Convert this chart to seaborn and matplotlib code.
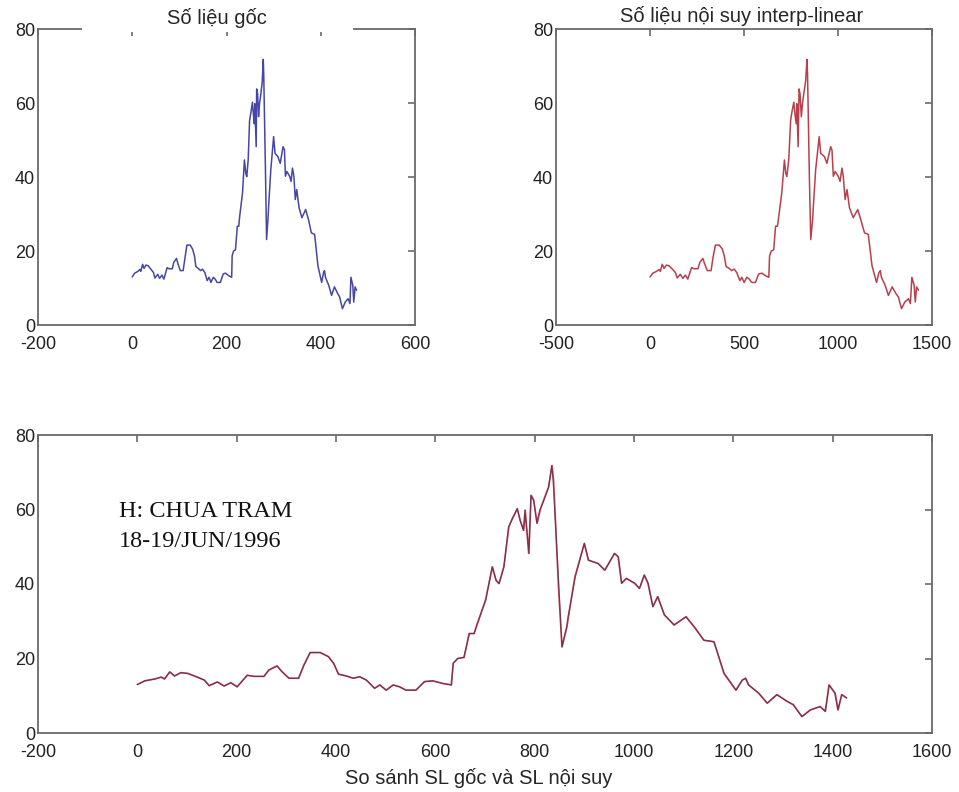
import matplotlib
matplotlib.use("Agg")
import matplotlib.pyplot as plt
from matplotlib.patches import Rectangle
import numpy as np
import pandas as pd
import seaborn as sns

# ! -------------
# ! Water level readings (H, cm)
# ? original sample index (Số liệu gốc)
orig_t = [
    0, 5, 12, 16, 18, 22, 25, 29, 34, 40,
    45, 48, 54, 58, 63, 67, 74, 78, 85, 88,
    94, 97, 102, 108, 112, 116, 123, 128, 132, 135,
    140, 145, 149, 154, 159, 163, 167, 172, 176, 180,
    187, 193, 198, 205, 211, 212, 215, 219, 223, 226,
    228, 234, 238, 241, 243, 246, 249, 252, 255, 257,
    259, 260, 263, 264, 266, 268, 270, 273, 276, 278,
    279, 281, 283, 285, 288, 289, 294, 300, 303, 309,
    314, 320, 323, 325, 328, 334, 337, 340, 343, 346,
    349, 354, 360, 368, 374, 380, 387, 394, 402, 406,
    408, 410, 417, 423, 429, 436, 440, 446, 452, 458,
    462, 464, 468, 470, 473, 476,
]
# ? interpolated time index (Số liệu nội suy interp-linear)
interp_t = [
    0, 15, 35, 48, 55, 65, 75, 88, 101, 121,
    135, 145, 161, 175, 188, 201, 221, 235, 255, 265,
    281, 291, 305, 325, 335, 348, 368, 385, 395, 405,
    421, 435, 448, 461, 478, 488, 501, 515, 528, 541,
    561, 578, 595, 615, 632, 636, 645, 658, 668, 678,
    685, 701, 715, 722, 728, 738, 748, 755, 765, 771,
    778, 781, 788, 793, 798, 805, 811, 818, 828, 835,
    838, 843, 848, 855, 865, 868, 881, 900, 908, 928,
    941, 961, 968, 975, 985, 1001, 1011, 1021, 1028, 1038,
    1048, 1061, 1081, 1105, 1121, 1141, 1161, 1181, 1205, 1218,
    1225, 1231, 1251, 1268, 1288, 1308, 1321, 1338, 1355, 1375,
    1385, 1393, 1405, 1411, 1418, 1428,
]
level_h = [
    13, 14, 14.5, 15, 14.5, 16.4, 15.3, 16.2, 16, 15,
    14.2, 12.7, 13.7, 12.6, 13.5, 12.4, 15.5, 15.2, 15.2, 16.9,
    18, 16.5, 14.7, 14.7, 18.2, 21.6, 21.6, 20.5, 18.7, 15.8,
    15.3, 14.7, 15.1, 14.2, 12, 12.9, 11.5, 12.9, 12.4, 11.5,
    11.5, 13.8, 14, 13.3, 12.9, 18.7, 20, 20.3, 26.7, 26.7,
    29.4, 35.7, 44.6, 41, 40.1, 44.6, 55.3, 57.6, 60.2, 57,
    54.4, 59.8, 48.2, 63.8, 62.5, 56.3, 59.8, 62.5, 66, 71.8,
    67.8, 53.6, 39.2, 23.1, 28.5, 31.2, 41.9, 50.9, 46.4, 45.5,
    43.7, 48.2, 47.3, 40.2, 41.5, 40.2, 38.8, 42.4, 40.2, 33.9,
    36.6, 31.7, 29, 31.2, 28.5, 24.9, 24.5, 16, 11.5, 14.2,
    14.7, 12.9, 10.7, 8, 10.3, 8.5, 7.6, 4.4, 6.2, 7.1,
    5.8, 12.9, 10.7, 6.2, 10.3, 9.4,
]

title_orig = "Số liệu gốc"
title_interp = "Số liệu nội suy interp-linear"
title_compare = "So sánh SL gốc và SL nội suy"
station_note = "H: CHUA TRAM\n18-19/JUN/1996"

df_orig = pd.DataFrame({"t": orig_t, "h": level_h})
df_interp = pd.DataFrame({"t": interp_t, "h": level_h})

sns.set_style("white")
plt.rcParams["font.family"] = ["Liberation Sans", "DejaVu Sans"]
plt.rcParams["axes.unicode_minus"] = False

W, H = 959, 792
fig = plt.figure(figsize=(W / 100, H / 100), dpi=100)


def px_axes(left, top, right, bottom):
    return fig.add_axes([left / W, 1 - bottom / H, (right - left) / W, (bottom - top) / H])


ax_tl = px_axes(38, 29, 415, 325)
ax_tr = px_axes(556, 29, 932, 325)
ax_bt = px_axes(38, 435, 932, 733)

blue = "#4646a6"
red = "#b8404c"

sns.lineplot(data=df_orig, x="t", y="h", ax=ax_tl, color=blue, lw=1.1,
             estimator=None, sort=False)
sns.lineplot(data=df_interp, x="t", y="h", ax=ax_tr, color=red, lw=1.1,
             estimator=None, sort=False)
sns.lineplot(data=df_interp, x="t", y="h", ax=ax_bt, color=red, lw=1.2,
             estimator=None, sort=False)
# original series on the interpolated time axis (3 steps per sample)
sns.lineplot(x=np.array(orig_t) * 3, y=level_h, ax=ax_bt, color="#3a2050",
             lw=0.8, alpha=0.5, estimator=None, sort=False)


def style(ax, xlim, xticks):
    ax.set_xlim(*xlim)
    ax.set_ylim(0, 80)
    ax.set_xticks(xticks)
    ax.set_yticks([0, 20, 40, 60, 80])
    ax.set_xlabel("")
    ax.set_ylabel("")
    for s in ax.spines.values():
        s.set_visible(True)
        s.set_color("#6a6a6a")
        s.set_linewidth(1.3)
    ax.tick_params(direction="in", top=True, right=True, length=5, width=1.2,
                   color="#6a6a6a", labelsize=13, labelcolor="#222222", pad=2)
    ax.tick_params(axis="x", pad=8)


style(ax_tl, (-200, 600), [-200, 0, 200, 400, 600])
style(ax_tr, (-500, 1500), [-500, 0, 500, 1000, 1500])
style(ax_bt, (-200, 1600), [-200, 0, 200, 400, 600, 800, 1000, 1200, 1400, 1600])

# white box behind the first title, hiding part of the top spine
fig.add_artist(Rectangle((82 / W, 1 - 32 / H), 271 / W, 9 / H,
                         transform=fig.transFigure, facecolor="white",
                         edgecolor="none", zorder=10))

fig.text(217 / W, 1 - 18 / H, title_orig, ha="center", va="center",
         fontsize=14.5, zorder=11)
fig.text(742 / W, 1 - 16 / H, title_interp, ha="center", va="center", fontsize=14.5)
fig.text(479 / W, 1 - 778 / H, title_compare, ha="center", va="center", fontsize=14.5)
fig.text(119 / W, 1 - 501 / H, station_note, ha="left", va="top", fontsize=17.5,
         family=["Liberation Serif", "DejaVu Serif"], linespacing=1.55, color="#111111")

fig.savefig("out.png", dpi=100)
